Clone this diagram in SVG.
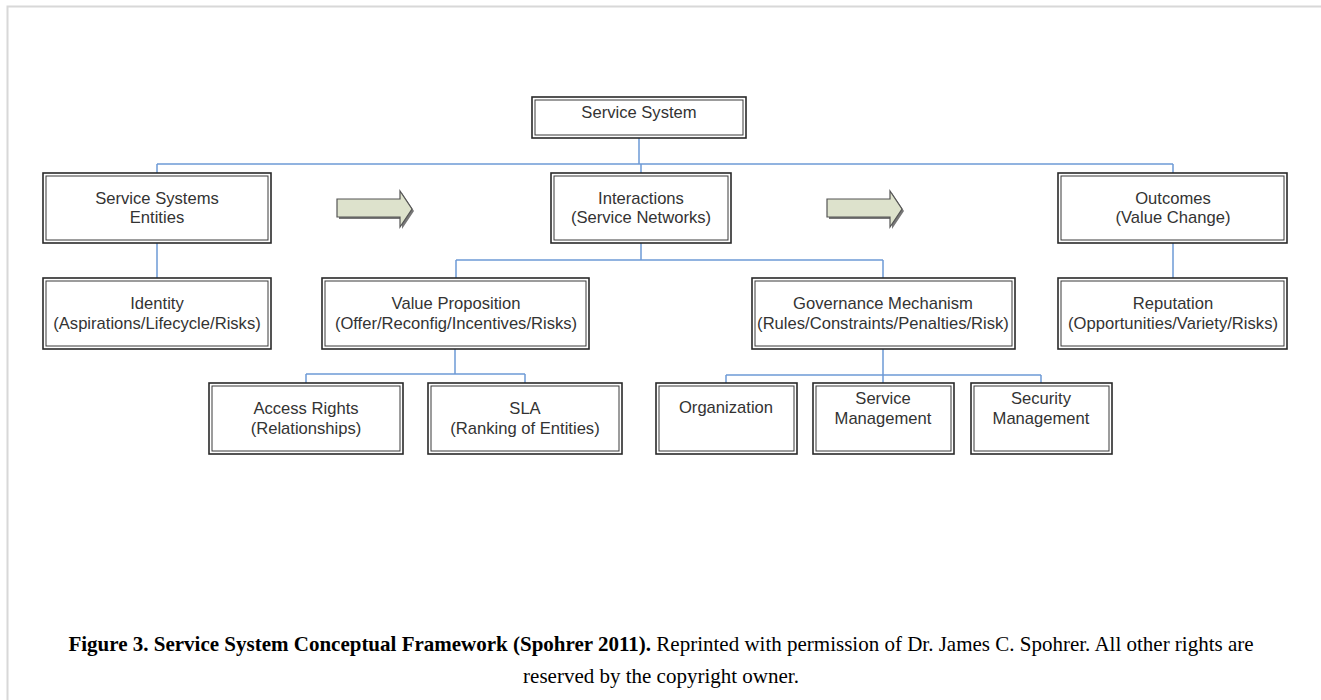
<svg xmlns="http://www.w3.org/2000/svg" width="1321" height="700" viewBox="0 0 1321 700">
<style>
.o{fill:#fff;stroke:#2a2a2a;stroke-width:1.6}
.i{fill:none;stroke:#3a3a3a;stroke-width:1}
.t{font-family:"Liberation Sans",Arial,sans-serif;font-size:16.6px;fill:#333;text-anchor:middle}
.c{fill:none;stroke:#6d9ad6;stroke-width:1.5}
.cap{font-family:"Liberation Serif","Times New Roman",serif;font-size:21px;fill:#000;text-anchor:middle}
.ar{fill:#dde2cc;stroke:#555;stroke-width:1.2}
.sh{fill:#777}
</style>
<rect x="0" y="0" width="1321" height="700" fill="#fff"/>
<path d="M7.5,700 V6.5 H1321" fill="none" stroke="#d8d8d8" stroke-width="2"/>
<g id="connectors">
<path class="c" d="M639,138 V164 M157,164 H1173 M157,164 V173 M641,164 V173 M1173,164 V173"/>
<path class="c" d="M157,243 V278 M1173,243 V278"/>
<path class="c" d="M641,243 V260 M456,260 H883 M456,260 V278 M883,260 V278"/>
<path class="c" d="M455,349 V374 M306,374 H525 M306,374 V383 M525,374 V383"/>
<path class="c" d="M883,349 V383 M726,375 H1041 M726,375 V383 M1041,375 V383"/>
</g>
<g id="arrow1">
<polygon class="sh" points="339,201 402,201 402,193 414,211 402,229 402,219 339,219"/>
<polygon class="ar" points="337,199 400,199 400,191 412,209 400,227 400,217 337,217"/>
</g>
<g id="arrow2">
<polygon class="sh" points="829,201 892,201 892,193 904,211 892,229 892,219 829,219"/>
<polygon class="ar" points="827,199 890,199 890,191 902,209 890,227 890,217 827,217"/>
</g>
<g id="service-system">
<rect class="o" x="532" y="97" width="214" height="41"/><rect class="i" x="535" y="100" width="208" height="35"/>
<text class="t" x="639" y="118">Service System</text>
</g>
<g id="entities">
<rect class="o" x="43" y="173" width="228" height="70"/><rect class="i" x="46" y="176" width="222" height="64"/>
<text class="t" x="157" y="204">Service Systems</text><text class="t" x="157" y="223">Entities</text>
</g>
<g id="interactions">
<rect class="o" x="551" y="173" width="180" height="70"/><rect class="i" x="554" y="176" width="174" height="64"/>
<text class="t" x="641" y="204">Interactions</text><text class="t" x="641" y="223">(Service Networks)</text>
</g>
<g id="outcomes">
<rect class="o" x="1058" y="173" width="229" height="70"/><rect class="i" x="1061" y="176" width="223" height="64"/>
<text class="t" x="1173" y="204">Outcomes</text><text class="t" x="1173" y="223">(Value Change)</text>
</g>
<g id="identity">
<rect class="o" x="43" y="278" width="228" height="71"/><rect class="i" x="46" y="281" width="222" height="65"/>
<text class="t" x="157" y="309">Identity</text><text class="t" x="157" y="329">(Aspirations/Lifecycle/Risks)</text>
</g>
<g id="value-proposition">
<rect class="o" x="322" y="278" width="267" height="71"/><rect class="i" x="325" y="281" width="261" height="65"/>
<text class="t" x="456" y="309">Value Proposition</text><text class="t" x="456" y="329">(Offer/Reconfig/Incentives/Risks)</text>
</g>
<g id="governance">
<rect class="o" x="752" y="278" width="263" height="71"/><rect class="i" x="755" y="281" width="257" height="65"/>
<text class="t" x="883" y="309">Governance Mechanism</text><text class="t" x="883" y="329">(Rules/Constraints/Penalties/Risk)</text>
</g>
<g id="reputation">
<rect class="o" x="1058" y="278" width="229" height="71"/><rect class="i" x="1061" y="281" width="223" height="65"/>
<text class="t" x="1173" y="309">Reputation</text><text class="t" x="1173" y="329">(Opportunities/Variety/Risks)</text>
</g>
<g id="access-rights">
<rect class="o" x="209" y="383" width="194" height="71"/><rect class="i" x="212" y="386" width="188" height="65"/>
<text class="t" x="306" y="414">Access Rights</text><text class="t" x="306" y="434">(Relationships)</text>
</g>
<g id="sla">
<rect class="o" x="428" y="383" width="194" height="71"/><rect class="i" x="431" y="386" width="188" height="65"/>
<text class="t" x="525" y="414">SLA</text><text class="t" x="525" y="434">(Ranking of Entities)</text>
</g>
<g id="organization">
<rect class="o" x="656" y="383" width="141" height="71"/><rect class="i" x="659" y="386" width="135" height="65"/>
<text class="t" x="726" y="413">Organization</text>
</g>
<g id="service-management">
<rect class="o" x="813" y="383" width="141" height="71"/><rect class="i" x="816" y="386" width="135" height="65"/>
<text class="t" x="883" y="404">Service</text><text class="t" x="883" y="424">Management</text>
</g>
<g id="security-management">
<rect class="o" x="971" y="383" width="141" height="71"/><rect class="i" x="974" y="386" width="135" height="65"/>
<text class="t" x="1041" y="404">Security</text><text class="t" x="1041" y="424">Management</text>
</g>
<g id="caption">
<text class="cap" x="661" y="651"><tspan font-weight="bold">Figure 3. Service System Conceptual Framework (Spohrer 2011).</tspan> Reprinted with permission of Dr. James C. Spohrer. All other rights are</text>
<text class="cap" x="661" y="683">reserved by the copyright owner.</text>
</g>
</svg>
